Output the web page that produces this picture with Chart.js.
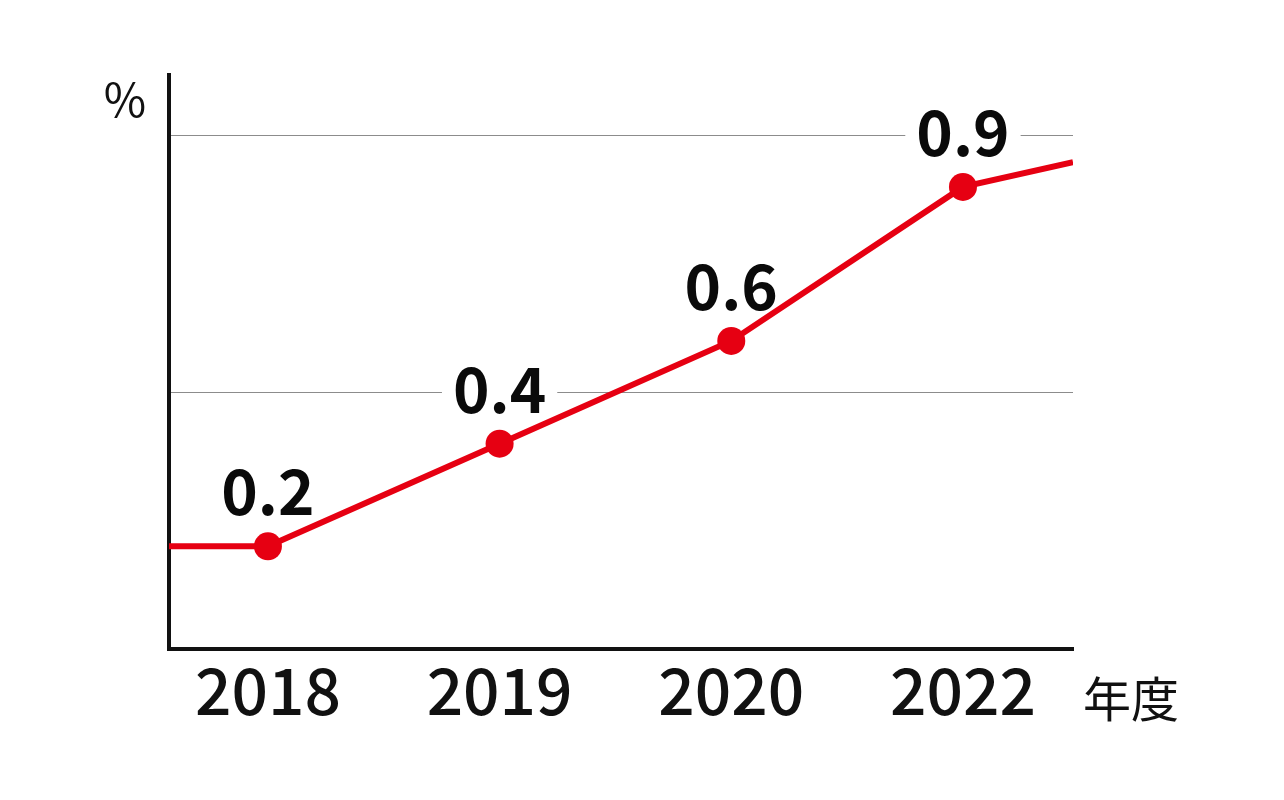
<!DOCTYPE html>
<html>
<head>
<meta charset="utf-8">
<script src="https://cdn.jsdelivr.net/npm/chart.js@4"></script>
<style>
  html, body { margin: 0; padding: 0; background: #ffffff; }
  #wrap { width: 1284px; height: 800px; }
</style>
</head>
<body>
<div id="wrap"><canvas id="c" width="1284" height="800"></canvas></div>
<script>
// ---- data ----
const years = ['2018', '2019', '2020', '2022'];
const values = [0.2, 0.4, 0.6, 0.9];
const valueLabels = ['0.2', '0.4', '0.6', '0.9'];
const leadValue = 0.2;      // line continues to the left edge at this value
const trailValue = 0.948;   // line continues to the right edge at this value
const gridValues = [0.5, 1.0];
const yUnit = '%';
const xUnit = '年度';

// ---- styles ----
const RED = '#e60012';
const FONT = "'Noto Sans CJK JP', 'Noto Sans', sans-serif";
const X_MIN = -0.427, X_MAX = 3.475;
const Y_MIN = 0, Y_MAX = 1.118;

const points = [{ x: X_MIN, y: leadValue }]
  .concat(values.map((v, i) => ({ x: i, y: v })))
  .concat([{ x: X_MAX, y: trailValue }]);
const lastIdx = points.length - 1;

const labelPlugin = {
  id: 'valueLabels',
  beforeDatasetsDraw(chart) {
    const ctx = chart.ctx;
    const meta = chart.getDatasetMeta(0);
    ctx.save();
    ctx.font = 'bold 62px ' + FONT;
    ctx.textAlign = 'center';
    ctx.textBaseline = 'alphabetic';
    valueLabels.forEach((t, i) => {
      const el = meta.data[i + 1];
      const x = el.x, yb = el.y - 31;
      const w = ctx.measureText(t).width + 22;
      ctx.fillStyle = '#ffffff';
      ctx.fillRect(x - w / 2, yb - 50, w, 52);
      ctx.fillStyle = '#0a0a0a';
      ctx.fillText(t, x, yb);
    });
    ctx.restore();
  },
  afterDraw(chart) {
    const ctx = chart.ctx;
    const a = chart.chartArea;
    ctx.save();
    ctx.fillStyle = '#111111';
    ctx.textAlign = 'center';
    ctx.textBaseline = 'middle';
    ctx.font = '46px ' + FONT;
    ctx.fillText(yUnit, a.left - 44, a.top + 25);
    ctx.font = '48px ' + FONT;
    ctx.fillText(xUnit, a.right + 58, a.bottom + 50);
    ctx.restore();
  }
};

new Chart(document.getElementById('c'), {
  type: 'line',
  data: {
    datasets: [{
      data: points,
      borderColor: RED,
      borderWidth: 6,
      backgroundColor: RED,
      pointBackgroundColor: RED,
      pointBorderWidth: 0,
      pointRadius: ctx => (ctx.dataIndex === 0 || ctx.dataIndex === lastIdx) ? 0 : 14,
      pointHoverRadius: ctx => (ctx.dataIndex === 0 || ctx.dataIndex === lastIdx) ? 0 : 14,
      tension: 0,
      fill: false
    }]
  },
  options: {
    responsive: false,
    devicePixelRatio: 1,
    animation: false,
    events: [],
    layout: { padding: { left: 169, top: 75, right: 211, bottom: 0 } },
    plugins: { legend: { display: false }, tooltip: { enabled: false } },
    scales: {
      x: {
        type: 'linear',
        min: X_MIN,
        max: X_MAX,
        afterBuildTicks: s => { s.ticks = years.map((_, i) => ({ value: i })); },
        afterFit: s => { s.height = 151; },
        grid: { display: false, drawTicks: false },
        border: { display: true, color: '#111111', width: 4 },
        ticks: {
          padding: 3,
          color: '#111111',
          maxRotation: 0,
          autoSkip: false,
          font: { family: FONT, size: 64, weight: '500' },
          callback: v => years[v]
        }
      },
      y: {
        min: Y_MIN,
        max: Y_MAX,
        afterBuildTicks: s => { s.ticks = gridValues.map(v => ({ value: v })); },
        afterFit: s => { s.width = 0; },
        grid: { color: '#8c8c8c', lineWidth: 1, drawTicks: false },
        border: { display: true, color: '#111111', width: 4 },
        ticks: { display: false }
      }
    }
  },
  plugins: [labelPlugin]
});
</script>
</body>
</html>
